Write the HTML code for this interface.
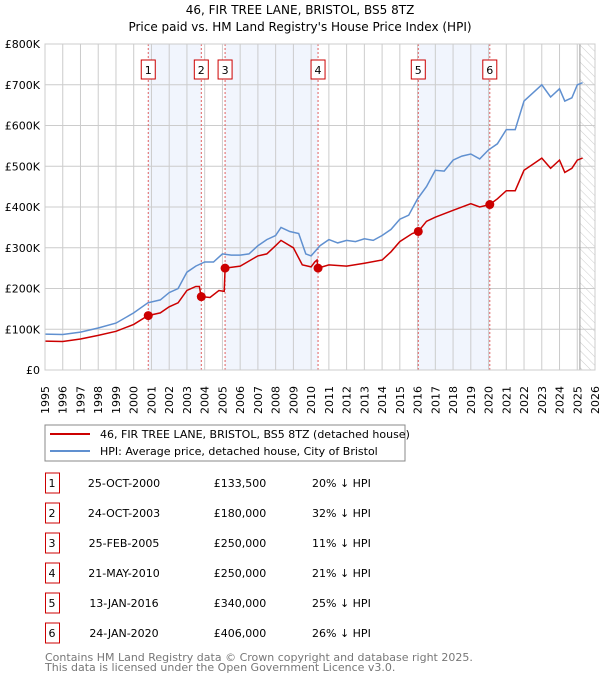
<!DOCTYPE html>
<html><head><meta charset="utf-8"><style>
body{margin:0;background:#fff;font-family:"Liberation Sans","DejaVu Sans",sans-serif;}
svg text{font-family:"DejaVu Sans","Liberation Sans",sans-serif;}
</style></head><body>
<svg id="chart" width="600" height="680" viewBox="0 0 600 680" xmlns="http://www.w3.org/2000/svg">
<defs><pattern id="hatch" width="6" height="6" patternUnits="userSpaceOnUse" patternTransform="rotate(-45)"><line x1="0" y1="0" x2="0" y2="6" stroke="#ccc" stroke-width="1"/></pattern></defs>
<text x="300" y="14" text-anchor="middle" font-size="12">46, FIR TREE LANE, BRISTOL, BS5 8TZ</text>
<text x="300" y="31" text-anchor="middle" font-size="12">Price paid vs. HM Land Registry's House Price Index (HPI)</text>
<g id="plot"></g>
<rect x="45" y="425" width="360" height="36" fill="#fff" stroke="#888"/>
<line x1="50" y1="434" x2="90" y2="434" stroke="#cc0000" stroke-width="2"/>
<text x="100" y="438" font-size="11">46, FIR TREE LANE, BRISTOL, BS5 8TZ (detached house)</text>
<line x1="50" y1="451" x2="90" y2="451" stroke="#6090d0" stroke-width="2"/>
<text x="100" y="455" font-size="11">HPI: Average price, detached house, City of Bristol</text>
<g id="table"></g>
<text x="45" y="661" font-size="11" fill="#777">Contains HM Land Registry data © Crown copyright and database right 2025.</text>
<text x="45" y="671" font-size="11" fill="#777">This data is licensed under the Open Government Licence v3.0.</text>
</svg>
<script>
const hpiYears=[1995,1996,1997,1998,1999,2000,2000.8,2001.5,2002,2002.5,2003,2003.5,2004,2004.5,2005,2005.5,2006,2006.5,2007,2007.5,2008,2008.3,2008.8,2009.3,2009.7,2010,2010.5,2011,2011.5,2012,2012.5,2013,2013.5,2014,2014.5,2015,2015.5,2016,2016.5,2017,2017.5,2018,2018.5,2019,2019.5,2020,2020.5,2021,2021.5,2022,2022.5,2023,2023.5,2024,2024.3,2024.7,2025,2025.3];
const hpiValues=[88,87,93,103,115,140,165,172,190,200,240,255,265,265,285,282,282,285,305,320,330,350,340,335,285,280,305,320,312,318,315,322,318,330,345,370,380,420,450,490,488,515,525,530,518,540,555,590,590,660,680,700,670,690,660,668,700,705];
const propYears=[1995,1996,1997,1998,1999,2000,2000.8,2001.5,2002,2002.5,2003,2003.5,2003.7,2003.8,2004.3,2004.8,2005.1,2005.15,2006,2007,2007.5,2008,2008.3,2009,2009.5,2010,2010.2,2010.33,2010.39,2011,2012,2013,2014,2014.5,2015,2015.7,2016.04,2016.5,2017,2018,2019,2019.5,2020.06,2020.5,2021,2021.5,2022,2022.5,2023,2023.5,2024,2024.3,2024.7,2025,2025.3];
const propValues=[71,70,76,85,95,112,133.5,140,155,165,195,205,205,180,178,195,193,250,255,280,285,305,318,300,258,253,265,270,250,258,255,262,270,290,315,335,340,365,375,392,408,400,406,420,440,440,490,505,520,495,515,485,495,515,520];
const saleLabels=["1","2","3","4","5","6"];
const saleYears=[2000.82,2003.81,2005.15,2010.39,2016.04,2020.07];
const salePrices=[133.5,180,250,250,340,406];
const saleDates=["25-OCT-2000","24-OCT-2003","25-FEB-2005","21-MAY-2010","13-JAN-2016","24-JAN-2020"];
const salePriceText=["£133,500","£180,000","£250,000","£250,000","£340,000","£406,000"];
const saleHpiText=["20% ↓ HPI","32% ↓ HPI","11% ↓ HPI","21% ↓ HPI","25% ↓ HPI","26% ↓ HPI"];
const yTicks=[0,100,200,300,400,500,600,700,800];
const yTickLabels=["£0","£100K","£200K","£300K","£400K","£500K","£600K","£700K","£800K"];
const xTicks=[1995,1996,1997,1998,1999,2000,2001,2002,2003,2004,2005,2006,2007,2008,2009,2010,2011,2012,2013,2014,2015,2016,2017,2018,2019,2020,2021,2022,2023,2024,2025,2026];

const NS="http://www.w3.org/2000/svg";
const X0=45,X1=595,Y0=370,Y1=44;
const xs=y=>X0+(y-1995)/(2026-1995)*(X1-X0);
const ys=v=>Y0-v/800*(Y0-Y1);
const plot=document.getElementById('plot');
function mk(tag,attrs,parent){const e=document.createElementNS(NS,tag);for(const k in attrs)e.setAttribute(k,attrs[k]);(parent||plot).appendChild(e);return e;}
// shaded bands
for(let i=0;i<saleYears.length;i+=2){
  const r=mk('rect',{x:xs(saleYears[i]),y:Y1,width:xs(saleYears[i+1])-xs(saleYears[i]),height:Y0-Y1,fill:'#eef3fc',opacity:0.8});
  
  
}
// grid
xTicks.forEach(t=>{const l=mk('line',{x1:xs(t),x2:xs(t),y1:Y1,y2:Y0,stroke:'#ccc','stroke-width':1});
  
  
  const tx=mk('text',{x:0,y:0,'font-size':11,transform:`translate(${xs(t)+4},414) rotate(-90)`});
  tx.textContent=t;
  
  
});
yTicks.forEach((t,i)=>{const l=mk('line',{x1:X0,x2:X1,y1:ys(t),y2:ys(t),stroke:'#ccc','stroke-width':1});
  
  
  const tx=mk('text',{x:40,y:ys(t)+4,'font-size':11,'text-anchor':'end'});
  tx.textContent=yTickLabels[i];
  
  
});
// hatched future
const hx=xs(2025.15);
const h=mk('rect',{x:hx,y:Y1,width:X1-hx,height:Y0-Y1,fill:'url(#hatch)'});


const hl=mk('line',{x1:hx,x2:hx,y1:Y1,y2:Y0,stroke:'#999','stroke-width':1});


// sale vlines + labels
saleYears.forEach((y,i)=>{
  const l=mk('line',{x1:xs(y),x2:xs(y),y1:Y1,y2:Y0,stroke:'#e06060','stroke-width':1,'stroke-dasharray':'2,2'});
  
  
  const b=mk('rect',{x:xs(y)-7,y:60,width:14,height:19,fill:'#fff',stroke:'#cc0000'});
  
  
  const t=mk('text',{x:xs(y),y:74,'font-size':11,'text-anchor':'middle'});
  t.textContent=saleLabels[i];
  
  
});
function path(xa,va,color,name){
  const d=xa.map((y,i)=>(i?'L':'M')+xs(y).toFixed(1)+','+ys(va[i]).toFixed(1)).join('');
  const p=mk('path',{d:d,fill:'none',stroke:color,'stroke-width':1.5});
  
  
}
path(hpiYears,hpiValues,'#6090d0','hpi-line');
path(propYears,propValues,'#cc0000','property-line');
saleYears.forEach((y,i)=>{
  const c=mk('circle',{cx:xs(y),cy:ys(salePrices[i]),r:4.5,fill:'#cc0000'});
  
  
});
const bd=mk('rect',{x:X0,y:Y1,width:X1-X0,height:Y0-Y1,fill:'none',stroke:'#ccc'});


// table
const tb=document.getElementById('table');
saleLabels.forEach((s,i)=>{
  const cy=483+i*30;
  const b=mk('rect',{x:45.5,y:cy-10,width:14,height:20,fill:'#fff',stroke:'#cc0000'},tb);
  
  
  const vals=[[s,52,'middle'],[saleDates[i],124,'middle'],[salePriceText[i],240,'middle'],[saleHpiText[i],312,'start']];
  vals.forEach(v=>{const t=mk('text',{x:v[1],y:cy+4,'font-size':11,'text-anchor':v[2]},tb);
    t.textContent=v[0];
    
    });
});
</script>
</body></html>
